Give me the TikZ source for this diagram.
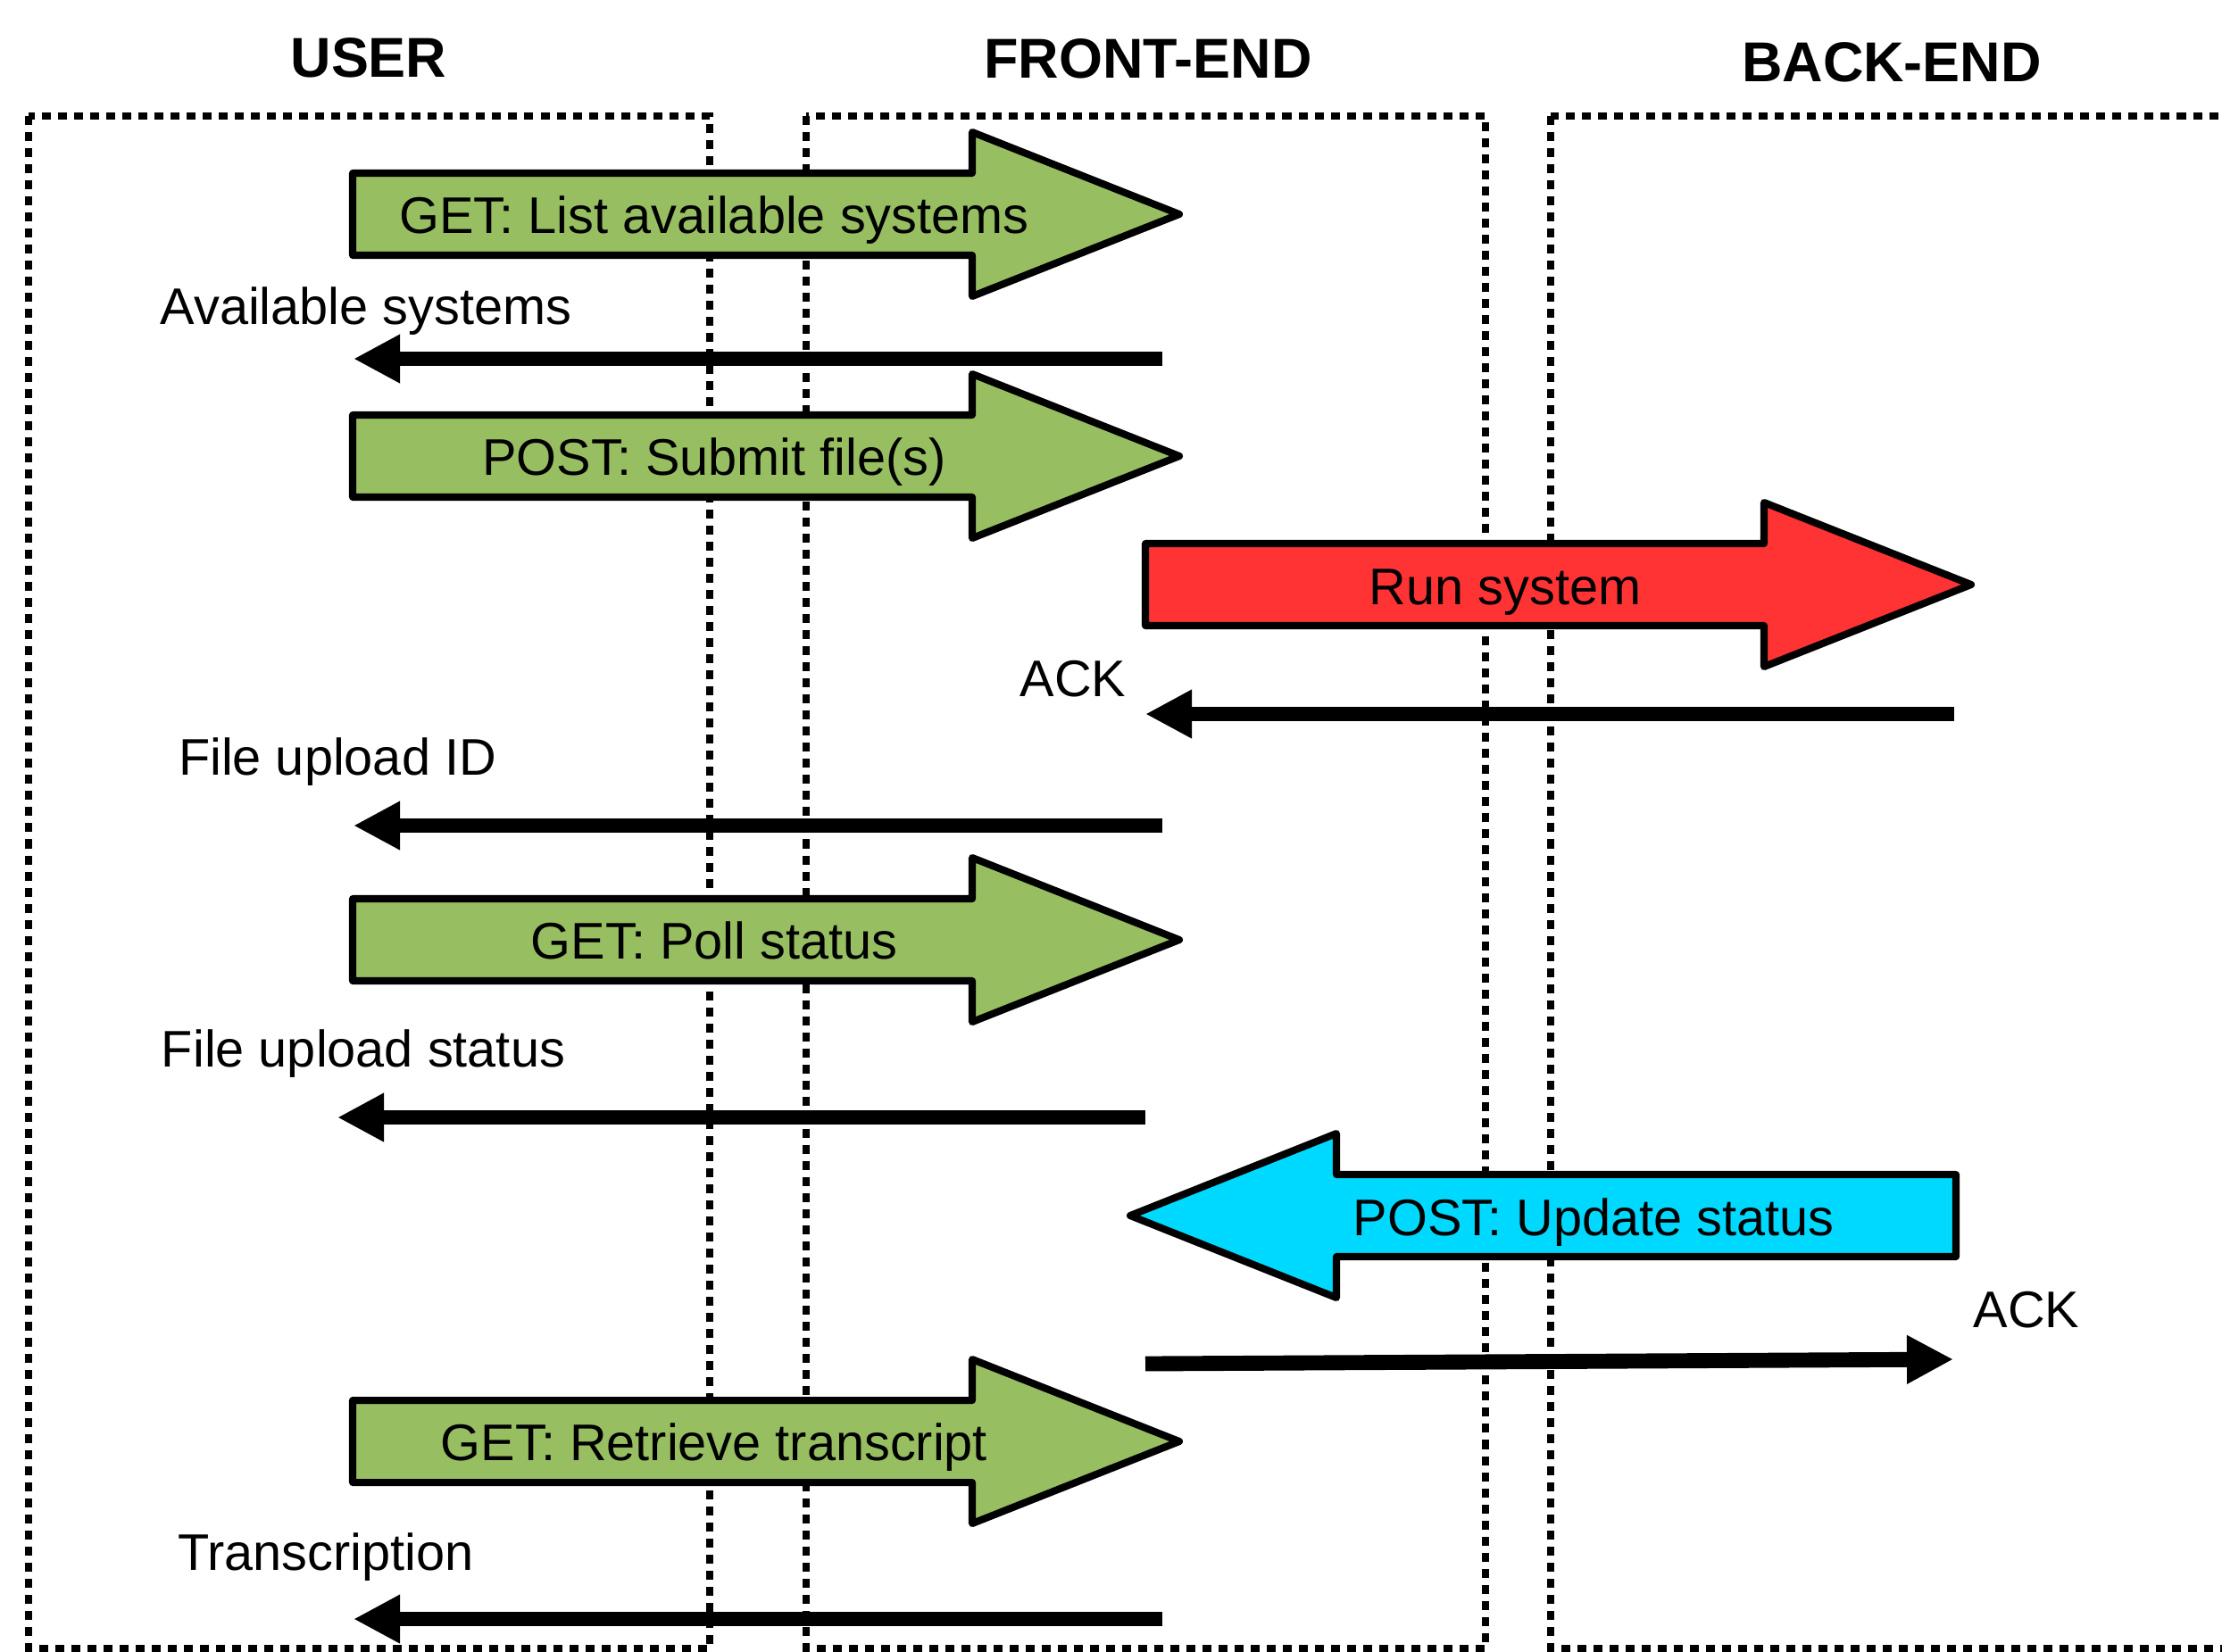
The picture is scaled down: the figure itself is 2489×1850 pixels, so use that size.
\documentclass[tikz,border=0pt]{standalone}
\usepackage{fontspec}
\setmainfont{Liberation Sans}
\usetikzlibrary{arrows.meta}
\definecolor{reqgreen}{RGB}{151,190,96}
\definecolor{runred}{RGB}{255,51,51}
\definecolor{updcyan}{RGB}{0,217,255}
\tikzstyle{lane} = [line width=2.2pt, dash pattern=on 1mm off 0.8mm]
\tikzstyle{lanetitle} = [font=\fontsize{17.9}{20}\selectfont\bfseries, inner sep=0pt, text height=4.5mm, text depth=0pt]
\tikzstyle{bigarrow} = [draw=black, line width=2.3pt, line join=round]
\tikzstyle{msgtext} = [font=\fontsize{16.4}{19}\selectfont, inner sep=0pt, text height=4.1mm, text depth=0pt]
\tikzstyle{reply} = [line width=4.8pt, -{Triangle[length=5.2mm,width=5.1mm]}]

\begin{document}
\begin{tikzpicture}[x=0.01cm, y=-0.01cm]
\useasboundingbox (0,0) rectangle (2489,1850);
\clip (0,0) rectangle (2489,1850);

% Lanes
\draw[lane] (32,130) rectangle (795,1847);
\draw[lane] (903,130) rectangle (1664,1847);
\draw[lane] (1737,130) rectangle (2600,1847);
\node (user) [lanetitle] at (413,64) {USER};
\node (frontend) [lanetitle] at (1286,65) {FRONT-END};
\node (backend) [lanetitle] at (2119,69) {BACK-END};

% Requests
\draw[bigarrow, fill=reqgreen] (395,194) -- (1089,194) -- (1089,148) -- (1321,240) -- (1089,332) -- (1089,286) -- (395,286) -- cycle;
\node (listreq) [msgtext] at (800,241) {GET: List available systems};

\draw[bigarrow, fill=reqgreen] (395,465) -- (1089,465) -- (1089,419) -- (1321,511) -- (1089,603) -- (1089,557) -- (395,557) -- cycle;
\node (submitreq) [msgtext] at (800,512) {POST: Submit file(s)};

\draw[bigarrow, fill=runred] (1283,609) -- (1976,609) -- (1976,563) -- (2208,655) -- (1976,747) -- (1976,701) -- (1283,701) -- cycle;
\node (runreq) [msgtext] at (1686,657) {Run system};

\draw[bigarrow, fill=reqgreen] (395,1007) -- (1089,1007) -- (1089,961) -- (1321,1053) -- (1089,1145) -- (1089,1099) -- (395,1099) -- cycle;
\node (pollreq) [msgtext] at (800,1054) {GET: Poll status};

\draw[bigarrow, fill=updcyan] (2191,1316) -- (1497,1316) -- (1497,1270) -- (1266,1362) -- (1497,1454) -- (1497,1408) -- (2191,1408) -- cycle;
\node (updatereq) [msgtext] at (1785,1364) {POST: Update status};

\draw[bigarrow, fill=reqgreen] (395,1569) -- (1089,1569) -- (1089,1523) -- (1321,1615) -- (1089,1707) -- (1089,1661) -- (395,1661) -- cycle;
\node (fetchreq) [msgtext] at (800,1616) {GET: Retrieve transcript};

% Replies
\coordinate (systemsfrom) at (1302,402);
\coordinate (systemsto) at (396,402);
\draw[reply] (systemsfrom) -- (systemsto);
\node (systemslbl) [msgtext] at (410,343) {Available systems};

\coordinate (runackfrom) at (2189,800);
\coordinate (runackto) at (1283,800);
\draw[reply] (runackfrom) -- (runackto);
\node (runacklbl) [msgtext] at (1202,760) {ACK};

\coordinate (idfrom) at (1302,925);
\coordinate (idto) at (396,925);
\draw[reply] (idfrom) -- (idto);
\node (idlbl) [msgtext] at (378,848) {File upload ID};

\coordinate (statusfrom) at (1283,1252);
\coordinate (statusto) at (378,1252);
\draw[reply] (statusfrom) -- (statusto);
\node (statuslbl) [msgtext] at (407,1175) {File upload status};

\coordinate (updackfrom) at (1283,1528);
\coordinate (updackto) at (2188,1523);
\draw[reply] (updackfrom) -- (updackto);
\node (updacklbl) [msgtext] at (2270,1467) {ACK};

\coordinate (transfrom) at (1302,1814);
\coordinate (transto) at (396,1814);
\draw[reply] (transfrom) -- (transto);
\node (translbl) [msgtext] at (365,1739) {Transcription};
\end{tikzpicture}
\end{document}
